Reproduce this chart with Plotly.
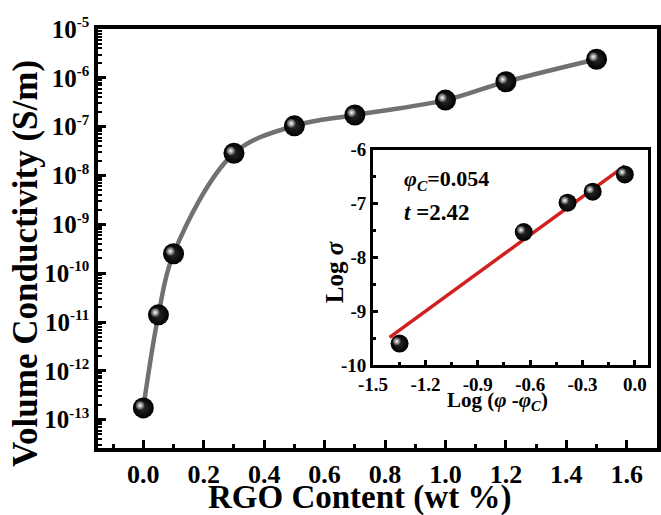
import plotly.graph_objects as go

# ---------------- data ----------------
rgo_wt = [0.0, 0.05, 0.1, 0.3, 0.5, 0.7, 1.0, 1.2, 1.5]
conductivity = [1.74e-13, 1.4e-11, 2.5e-10, 2.85e-8, 1.04e-7, 1.73e-7, 3.5e-7, 8.3e-7, 2.4e-6]

x_tickvals = [0.0, 0.2, 0.4, 0.6, 0.8, 1.0, 1.2, 1.4, 1.6]
x_ticktext = ["0.0", "0.2", "0.4", "0.6", "0.8", "1.0", "1.2", "1.4", "1.6"]
y_exponents = [-13, -12, -11, -10, -9, -8, -7, -6, -5]
y_tickvals = [10.0 ** e for e in y_exponents]
y_ticktext = ["10<sup><span style='font-size:15px'>%d</span></sup>" % e for e in y_exponents]

# inset: log(phi - phi_c) vs log(sigma)
log_phi_diff = [-1.348, -0.637, -0.386, -0.242, -0.058]
log_sigma = [-9.594, -7.528, -6.982, -6.779, -6.458]
fit_x = [-1.405, -0.058]
fit_y = [-9.48, -6.30]
inset_xtickvals = [-1.5, -1.2, -0.9, -0.6, -0.3, 0.0]
inset_xticktext = ["-1.5", "-1.2", "-0.9", "-0.6", "-0.3", "0.0"]
inset_ytickvals = [-10, -9, -8, -7, -6]
inset_yticktext = ["-10", "-9", "-8", "-7", "-6"]

# ---------------- styling ----------------
FONT = "Liberation Serif, Times New Roman, serif"
BALL = 21
BALL_IN = 18
HL = 9

XR = [-0.15, 1.7]
YR = [-13.58, -5.0]
IXR = [-1.5, 0.075]
IYR = [-10.0, -6.0]
inset_dom_x = [0.492, 0.984]
inset_dom_y = [0.197, 0.712]

minor_log = [m * 10.0 ** e for e in range(-14, -5) for m in range(2, 10)]

fig = go.Figure()

# main curve + balls
fig.add_trace(go.Scatter(x=rgo_wt, y=conductivity, mode="lines",
                         line=dict(color="#717171", width=4.5, shape="spline", smoothing=1.0),
                         xaxis="x", yaxis="y", hoverinfo="skip"))
fig.add_trace(go.Scatter(x=rgo_wt, y=conductivity, mode="markers",
                         marker=dict(size=BALL, color="black", line=dict(width=0),
                                     gradient=dict(type="radial", color="#2a2a2a")),
                         xaxis="x", yaxis="y"))
# highlights (slightly shifted axes)
fig.add_trace(go.Scatter(x=rgo_wt, y=conductivity, mode="markers",
                         marker=dict(size=HL, color="#3a3a3a", line=dict(width=0),
                                     gradient=dict(type="radial", color="white")),
                         xaxis="x3", yaxis="y3"))

# inset
fig.add_trace(go.Scatter(x=fit_x, y=fit_y, mode="lines",
                         line=dict(color="#d21f1f", width=3.5),
                         xaxis="x2", yaxis="y2"))
fig.add_trace(go.Scatter(x=log_phi_diff, y=log_sigma, mode="markers",
                         marker=dict(size=BALL_IN, color="black", line=dict(width=0),
                                     gradient=dict(type="radial", color="#2a2a2a")),
                         xaxis="x2", yaxis="y2"))
fig.add_trace(go.Scatter(x=log_phi_diff, y=log_sigma, mode="markers",
                         marker=dict(size=HL - 1, color="#3a3a3a", line=dict(width=0),
                                     gradient=dict(type="radial", color="white")),
                         xaxis="x4", yaxis="y4"))

# shift for highlights (pixels -> axis units)
mx_px = 563 / (XR[1] - XR[0])
my_px = 419 / (YR[1] - YR[0])
ix_px = 563 * (inset_dom_x[1] - inset_dom_x[0]) / (IXR[1] - IXR[0])
iy_px = 419 * (inset_dom_y[1] - inset_dom_y[0]) / (IYR[1] - IYR[0])
sx, sy = 3.2 / mx_px, 2.4 / my_px
isx, isy = 2.8 / ix_px, 2.2 / iy_px

axis_common = dict(showline=True, linecolor="black", mirror=True, ticks="inside",
                   tickcolor="black", showgrid=False, zeroline=False)

fig.update_layout(
    width=661, height=515,
    margin=dict(l=98, r=0, t=29, b=67),
    paper_bgcolor="white", plot_bgcolor="rgba(0,0,0,0)",
    showlegend=False,
    font=dict(family=FONT, color="black"),
    xaxis=dict(**axis_common, domain=[0, 1], anchor="y", range=XR, linewidth=3.5,
               ticklen=8, tickwidth=3, tickmode="array", tickvals=x_tickvals, ticktext=x_ticktext,
               tickfont=dict(size=26, family=FONT, weight="bold"),
               minor=dict(ticks="inside", ticklen=4, tickwidth=3, dtick=0.1, tick0=0, tickcolor="black")),
    yaxis=dict(**axis_common, domain=[0, 1], anchor="x", type="log", range=YR, linewidth=3.5,
               ticklen=8, tickwidth=3, tickmode="array", tickvals=y_tickvals, ticktext=y_ticktext,
               tickfont=dict(size=25, family=FONT, weight="bold"),
               minor=dict(ticks="inside", ticklen=4, tickwidth=1.5, tickmode="array",
                          tickvals=minor_log, tickcolor="black")),
    xaxis2=dict(**axis_common, domain=inset_dom_x, anchor="y2", range=IXR, linewidth=3,
                ticklen=5, tickwidth=2.5, tickmode="array", tickvals=inset_xtickvals,
                ticktext=inset_xticktext,
                tickfont=dict(size=19, family=FONT, weight="bold"),
                minor=dict(ticks="inside", ticklen=3, tickwidth=2.5, dtick=0.15, tick0=0, tickcolor="black")),
    yaxis2=dict(**axis_common, domain=inset_dom_y, anchor="x2", range=IYR, linewidth=3,
                ticklen=5, tickwidth=2.5, tickmode="array", tickvals=inset_ytickvals,
                ticktext=inset_yticktext,
                tickfont=dict(size=19, family=FONT, weight="bold"),
                minor=dict(ticks="inside", ticklen=3, tickwidth=2.5, dtick=0.5, tick0=0, tickcolor="black")),
    xaxis3=dict(domain=[0, 1], anchor="y3", range=[XR[0] + sx, XR[1] + sx], visible=False),
    yaxis3=dict(domain=[0, 1], anchor="x3", type="log", range=[YR[0] - sy, YR[1] - sy], visible=False),
    xaxis4=dict(domain=inset_dom_x, anchor="y4", range=[IXR[0] + isx, IXR[1] + isx], visible=False),
    yaxis4=dict(domain=inset_dom_y, anchor="x4", range=[IYR[0] - isy, IYR[1] - isy], visible=False),
)

ann_font = lambda s: dict(family=FONT, size=s, color="black", weight="bold")
fig.add_annotation(text="RGO Content (wt %)", xref="paper", yref="paper", x=0.468, y=-0.117,
                   xanchor="center", yanchor="middle", showarrow=False, font=ann_font(33))
fig.add_annotation(text="Volume Conductivity (S/m)", xref="paper", yref="paper", x=-0.130, y=0.44,
                   xanchor="center", yanchor="middle", textangle=-90, showarrow=False, font=ann_font(35))
fig.add_annotation(text="Log <i>σ</i>", xref="paper", yref="paper", x=0.4225, y=0.42,
                   xanchor="center", yanchor="middle", textangle=-90, showarrow=False, font=ann_font(25))
fig.add_annotation(text="Log (<i>φ</i> -<i>φ<sub>C</sub></i>)", xref="paper", yref="paper", x=0.714, y=0.113,
                   xanchor="center", yanchor="middle", showarrow=False, font=ann_font(21))
fig.add_annotation(text="<i>φ<sub>C</sub></i>=0.054", xref="x2", yref="y2", x=-1.335, y=-6.56,
                   xanchor="left", yanchor="middle", showarrow=False, font=ann_font(22))
fig.add_annotation(text="<i>t</i> =2.42", xref="x2", yref="y2", x=-1.335, y=-7.16,
                   xanchor="left", yanchor="middle", showarrow=False, font=ann_font(23))

fig.write_html("out.html")
